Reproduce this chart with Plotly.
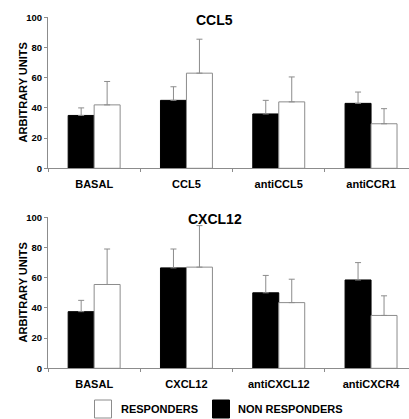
import plotly.graph_objects as go

# ---- data ----
cats_top = ["BASAL", "CCL5", "antiCCL5", "antiCCR1"]
non_top = [35, 45, 36, 43]
non_top_err = [5, 9, 9, 7.5]
resp_top = [42, 63, 44, 29.5]
resp_top_err = [15.5, 22.5, 16.5, 10]

cats_bot = ["BASAL", "CXCL12", "antiCXCL12", "antiCXCR4"]
non_bot = [37.5, 66.5, 50, 58.5]
non_bot_err = [7.5, 12.5, 11.5, 11.5]
resp_bot = [55.5, 67, 43.5, 35]
resp_bot_err = [23.5, 27.5, 15.5, 13]

titles = ["CCL5", "CXCL12"]
y_ticks = [0, 20, 40, 60, 80, 100]
legend_labels = ["RESPONDERS", "NON RESPONDERS"]

W, H = 409, 419
FONT = "Liberation Sans, Arial, sans-serif"
GRAY = "#8c8c8c"

fig = go.Figure()

def add_panel(cats, non, non_err, resp, resp_err, xa, ya):
    fig.add_trace(go.Bar(
        x=cats, y=non, name=legend_labels[1], xaxis=xa, yaxis=ya,
        marker=dict(color="black", line=dict(color="black", width=1)),
        error_y=dict(type="data", array=non_err, arrayminus=[0]*len(non_err),
                     symmetric=False, color=GRAY, thickness=1, width=3),
        showlegend=False))
    fig.add_trace(go.Bar(
        x=cats, y=resp, name=legend_labels[0], xaxis=xa, yaxis=ya,
        marker=dict(color="white", line=dict(color=GRAY, width=1)),
        error_y=dict(type="data", array=resp_err, arrayminus=[0]*len(resp_err),
                     symmetric=False, color=GRAY, thickness=1, width=3),
        showlegend=False))

add_panel(cats_top, non_top, non_top_err, resp_top, resp_top_err, "x", "y")
add_panel(cats_bot, non_bot, non_bot_err, resp_bot, resp_bot_err, "x2", "y2")

L = 48
plot_w = W - L
cat_w = 92.3
xmax = -0.5 + plot_w / cat_w

def ydom(top_px, bot_px):
    return [1 - bot_px / H, 1 - top_px / H]

common_x = dict(range=[-0.5, xmax], showline=True, linecolor=GRAY, linewidth=1,
                ticks="outside", ticklen=3, tickcolor=GRAY, tickson="boundaries",
                showgrid=False, zeroline=False, automargin=False,
                ticklabelstandoff=5,
                tickfont=dict(family=FONT, size=11, color="black", weight="bold"),
                fixedrange=True)
common_y = dict(range=[0, 100], tickvals=y_ticks, showline=True, linecolor=GRAY,
                linewidth=1, ticks="outside", ticklen=3, tickcolor=GRAY,
                showgrid=False, zeroline=False, automargin=False,
                ticklabelstandoff=0,
                tickfont=dict(family=FONT, size=9.5, color="black", weight="bold"),
                fixedrange=True)

fig.update_layout(
    width=W, height=H,
    margin=dict(l=L, r=0, t=0, b=0),
    paper_bgcolor="white", plot_bgcolor="white",
    barmode="group", bargap=0.437, bargroupgap=0,
    xaxis=dict(domain=[0, 1], anchor="y", **common_x),
    yaxis=dict(domain=ydom(17.3, 168.3), anchor="x", **common_y),
    xaxis2=dict(domain=[0, 1], anchor="y2", **common_x),
    yaxis2=dict(domain=ydom(217.3, 368.3), anchor="x2", **common_y),
    showlegend=False,
)

ann = []
title_x = (214.5 - L) / plot_w
for t, ypx in zip(titles, [20, 219]):
    ann.append(dict(text=t, x=title_x, y=1 - ypx / H, xref="paper", yref="paper",
                    xanchor="center", yanchor="middle", showarrow=False,
                    font=dict(family=FONT, size=14, color="black", weight="bold")))
for ypx in [92.4, 292.4]:
    ann.append(dict(text="ARBITRARY UNITS", x=(23 - L) / plot_w, y=1 - ypx / H,
                    xref="paper", yref="paper", textangle=-90,
                    xanchor="center", yanchor="middle", showarrow=False,
                    font=dict(family=FONT, size=11, color="black", weight="bold")))

# legend drawn with shapes and text
shapes = []
leg_y0, leg_y1 = 400, 418
for (x0, x1, fill, lc), label, tx in zip(
        [(94.5, 111.5, "white", GRAY), (212.5, 229.5, "black", "black")],
        legend_labels, [119, 236]):
    shapes.append(dict(type="rect", xref="paper", yref="paper",
                       x0=(x0 - L) / plot_w, x1=(x1 - L) / plot_w,
                       y0=1 - leg_y1 / H, y1=1 - leg_y0 / H,
                       fillcolor=fill, line=dict(color=lc, width=1)))
    ann.append(dict(text=label, x=(tx - L) / plot_w, y=1 - 408.5 / H,
                    xref="paper", yref="paper", xanchor="left", yanchor="middle",
                    showarrow=False,
                    font=dict(family=FONT, size=11, color="black", weight="bold")))

fig.update_layout(annotations=ann, shapes=shapes)
fig.write_html("out.html", config={"displayModeBar": False},
               post_script="document.body.style.margin='0';document.body.style.overflow='hidden';")
